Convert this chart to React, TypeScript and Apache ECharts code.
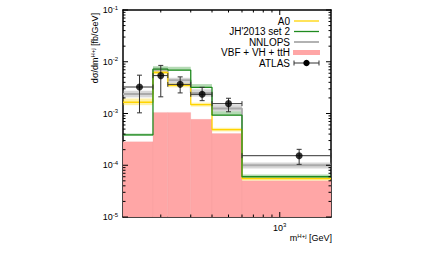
import React, { useEffect, useRef } from "react";
import * as echarts from "echarts";

// Bin edges (GeV)
const edges = [120, 180, 220, 300, 400, 600, 2000];

// VBF + VH + ttH (filled)
const vbf = [2.85e-4, 1.05e-3, 1.05e-3, 7.7e-4, 4.1e-4, 5.0e-5];

// A0 (yellow)
const a0 = [1.65e-3, 6.2e-3, 3.5e-3, 1.48e-3, 4.9e-4, 5.5e-5];
const a0Lo = [1.45e-3, 5.7e-3, 3.2e-3, 1.36e-3, 4.5e-4, 5.1e-5];
const a0Hi = [1.95e-3, 6.8e-3, 3.85e-3, 1.62e-3, 5.3e-4, 5.9e-5];

// JH'2013 set 2 (green)
const jh = [3.85e-4, 7.2e-3, 6.9e-3, 3.2e-3, 9.3e-4, 6.0e-5];
const jhLo = [3.7e-4, 6.9e-3, 6.7e-3, 3.1e-3, 9.0e-4, 5.8e-5];
const jhHi = [4.1e-4, 8.2e-3, 8.0e-3, 3.7e-3, 1.1e-3, 6.6e-5];

// NNLOPS (gray)
const nnlops = [2.38e-3, 7.0e-3, 4.4e-3, 2.5e-3, 1.25e-3, 1.0e-4];
const nnlopsLo = [2.05e-3, 6.3e-3, 3.9e-3, 2.12e-3, 1.1e-3, 0.87e-4];
const nnlopsHi = [2.75e-3, 7.7e-3, 4.9e-3, 2.93e-3, 1.45e-3, 1.13e-4];

// ATLAS data
const atlasX = [150, 200, 260, 350, 500, 1300];
const atlasY = [3.25e-3, 5.4e-3, 3.66e-3, 2.35e-3, 1.55e-3, 1.53e-4];
const atlasLo = [1.03e-3, 2.1e-3, 2.5e-3, 1.77e-3, 1.08e-3, 1.04e-4];
const atlasHi = [5.5e-3, 8.5e-3, 5.1e-3, 3.2e-3, 1.97e-3, 2.03e-4];

// Axis ranges and ticks
const xMin = 120;
const xMax = 2000;
const yMin = 1e-5;
const yMax = 1e-1;
const xMajorTicks = [1000];
const xMinorTicks = [200, 300, 400, 500, 600, 700, 800, 900];
const yMajorTicks = [1e-5, 1e-4, 1e-3, 1e-2, 1e-1];
const yMinorMultipliers = [2, 3, 4, 5, 6, 7, 8, 9];

const FONT = "Liberation Sans";
const YELLOW = "#ffd400";
const GREEN = "#1f8a1f";
const GRAY = "#aaaaaa";
const PINK = "#ffa6a6";

function stepPoints(vals: number[]) {
  const pts: number[][] = [];
  vals.forEach((v, i) => {
    pts.push([edges[i], v]);
    pts.push([edges[i + 1], v]);
  });
  return pts;
}

function binData(vals: number[]) {
  return vals.map((v, i) => [(edges[i] + edges[i + 1]) / 2, v]);
}

function bandSeries(lo: number[], hi: number[], color: string) {
  return {
    type: "custom",
    silent: true,
    z: 3,
    data: binData(hi),
    renderItem: (params: any, api: any) => {
      const i = params.dataIndex;
      const p0 = api.coord([edges[i], hi[i]]);
      const p1 = api.coord([edges[i + 1], lo[i]]);
      return {
        type: "rect",
        shape: { x: p0[0], y: p0[1], width: p1[0] - p0[0], height: p1[1] - p0[1] },
        style: { fill: color },
      };
    },
  };
}

function lineSeries(vals: number[], color: string, width: number, z: number) {
  return {
    type: "line",
    data: stepPoints(vals),
    symbol: "none",
    silent: true,
    z,
    lineStyle: { color, width },
  };
}

const sup = (e: number) => `{b|10}{s|${e}}`;

export default function App() {
  const ref = useRef<HTMLDivElement>(null);
  useEffect(() => {
    if (!ref.current) return;
    const chart = echarts.init(ref.current, undefined, { renderer: "svg" });
    const labelRich = {
      b: { fontSize: 9, fontFamily: FONT, color: "#000" },
      s: { fontSize: 6, fontFamily: FONT, color: "#000", verticalAlign: "top", padding: [0, 0, 5, 0] },
    };
    const frame = { show: true, lineStyle: { color: "#000", width: 1.5 } };
    const option: any = {
      animation: false,
      textStyle: { fontFamily: FONT },
      grid: { left: 123, right: 100, top: 10, bottom: 41 },
      xAxis: [
        {
          type: "log",
          logBase: 10,
          min: xMin,
          max: xMax,
          axisLine: frame,
          axisTick: { show: false },
          splitLine: { show: false },
          axisLabel: {
            margin: 5,
            formatter: (v: number) => {
              const e = Math.log10(v);
              return Math.abs(e - Math.round(e)) < 1e-6 ? sup(Math.round(e)) : "";
            },
            rich: labelRich,
          },
        },
        {
          type: "log",
          logBase: 10,
          position: "top",
          min: xMin,
          max: xMax,
          axisLine: frame,
          axisTick: { show: false },
          splitLine: { show: false },
          axisLabel: { show: false },
        },
      ],
      yAxis: [
        {
          type: "log",
          logBase: 10,
          min: yMin,
          max: yMax,
          axisLine: frame,
          axisTick: { show: false },
          splitLine: { show: false },
          axisLabel: {
            margin: 5,
            formatter: (v: number) => sup(Math.round(Math.log10(v))),
            rich: labelRich,
          },
        },
        {
          type: "log",
          logBase: 10,
          position: "right",
          min: yMin,
          max: yMax,
          axisLine: frame,
          axisTick: { show: false },
          splitLine: { show: false },
          axisLabel: { show: false },
        },
      ],
      series: [
        // VBF + VH + ttH filled bins
        {
          type: "custom",
          silent: true,
          z: 1,
          data: binData(vbf),
          renderItem: (params: any, api: any) => {
            const i = params.dataIndex;
            const p0 = api.coord([edges[i], vbf[i]]);
            const p1 = api.coord([edges[i + 1], yMin]);
            return {
              type: "rect",
              shape: { x: p0[0], y: p0[1], width: p1[0] - p0[0], height: p1[1] - p0[1] },
              style: { fill: PINK, stroke: "rgba(230,150,150,0.3)", lineWidth: 0.5 },
            };
          },
        },
        bandSeries(nnlopsLo, nnlopsHi, "rgba(150,150,150,0.38)"),
        bandSeries(jhLo, jhHi, "rgba(40,150,40,0.35)"),
        bandSeries(a0Lo, a0Hi, "rgba(255,215,0,0.35)"),
        lineSeries(nnlops, GRAY, 1.8, 4),
        lineSeries(a0, YELLOW, 1.3, 5),
        lineSeries(jh, GREEN, 1.3, 6),
        // ATLAS error bars
        {
          type: "custom",
          silent: true,
          z: 8,
          data: atlasX.map((x, i) => [x, atlasY[i]]),
          renderItem: (params: any, api: any) => {
            const i = params.dataIndex;
            const c = api.coord([atlasX[i], atlasY[i]]);
            const l = api.coord([edges[i], atlasY[i]]);
            const r = api.coord([edges[i + 1], atlasY[i]]);
            const lo = api.coord([atlasX[i], atlasLo[i]]);
            const hi = api.coord([atlasX[i], atlasHi[i]]);
            const st = { stroke: "#333", lineWidth: 1 };
            const cap = 2.5;
            return {
              type: "group",
              children: [
                { type: "line", shape: { x1: l[0], y1: c[1], x2: r[0], y2: c[1] }, style: st },
                { type: "line", shape: { x1: l[0], y1: c[1] - cap, x2: l[0], y2: c[1] + cap }, style: st },
                { type: "line", shape: { x1: r[0], y1: c[1] - cap, x2: r[0], y2: c[1] + cap }, style: st },
                { type: "line", shape: { x1: c[0], y1: lo[1], x2: c[0], y2: hi[1] }, style: st },
                { type: "line", shape: { x1: c[0] - cap, y1: lo[1], x2: c[0] + cap, y2: lo[1] }, style: st },
                { type: "line", shape: { x1: c[0] - cap, y1: hi[1], x2: c[0] + cap, y2: hi[1] }, style: st },
              ],
            };
          },
        },
        {
          type: "scatter",
          silent: true,
          z: 9,
          data: atlasX.map((x, i) => [x, atlasY[i]]),
          symbol: "circle",
          symbolSize: 7,
          itemStyle: { color: "#000" },
        },
        // Ticks (inside, on all four sides)
        {
          type: "custom",
          silent: true,
          z: 10,
          data: [[xMin, yMin]],
          renderItem: (params: any, api: any) => {
            const children: any[] = [];
            const st = { stroke: "#000", lineWidth: 1 };
            const addY = (v: number, len: number) => {
              const a = api.coord([xMin, v]);
              const b = api.coord([xMax, v]);
              children.push({ type: "line", shape: { x1: a[0], y1: a[1], x2: a[0] + len, y2: a[1] }, style: st });
              children.push({ type: "line", shape: { x1: b[0] - len, y1: b[1], x2: b[0], y2: b[1] }, style: st });
            };
            const addX = (u: number, len: number) => {
              const a = api.coord([u, yMin]);
              const b = api.coord([u, yMax]);
              children.push({ type: "line", shape: { x1: a[0], y1: a[1], x2: a[0], y2: a[1] - len }, style: st });
              children.push({ type: "line", shape: { x1: b[0], y1: b[1], x2: b[0], y2: b[1] + len }, style: st });
            };
            yMajorTicks.forEach((v) => addY(v, 5));
            yMajorTicks.slice(0, -1).forEach((v) => yMinorMultipliers.forEach((k) => addY(v * k, 2.5)));
            xMajorTicks.forEach((u) => addX(u, 5));
            xMinorTicks.forEach((u) => addX(u, 2.5));
            return { type: "group", children };
          },
        },
      ],
      graphic: [
        {
          type: "text",
          x: 95,
          y: 48,
          rotation: Math.PI / 2,
          style: {
            text: "{a|dσ/dm}{s|H+j}{a| [fb/GeV]}",
            align: "center",
            verticalAlign: "middle",
            rich: {
              a: { fontSize: 9, fontFamily: FONT, fill: "#000" },
              s: { fontSize: 6, fontFamily: FONT, fill: "#000", verticalAlign: "top", padding: [0, 0, 5, 0] },
            },
          },
        },
        {
          type: "text",
          x: 332,
          y: 238,
          style: {
            text: "{a|m}{s|H+j}{a| [GeV]}",
            align: "right",
            verticalAlign: "middle",
            rich: {
              a: { fontSize: 9, fontFamily: FONT, fill: "#000" },
              s: { fontSize: 6, fontFamily: FONT, fill: "#000", verticalAlign: "top", padding: [0, 0, 5, 0] },
            },
          },
        },
        // Legend
        ...["A0", "JH'2013 set 2", "NNLOPS", "VBF + VH + ttH", "ATLAS"].map((t, i) => ({
          type: "text",
          x: 290,
          y: 21 + i * 10.5,
          style: { text: t, align: "right", verticalAlign: "middle", fontSize: 10, fontFamily: FONT, fill: "#000" },
        })),
        { type: "line", shape: { x1: 294, y1: 21, x2: 319, y2: 21 }, style: { stroke: YELLOW, lineWidth: 1.3 } },
        { type: "line", shape: { x1: 294, y1: 31.5, x2: 319, y2: 31.5 }, style: { stroke: GREEN, lineWidth: 1.3 } },
        { type: "line", shape: { x1: 294, y1: 42, x2: 319, y2: 42 }, style: { stroke: GRAY, lineWidth: 1.8 } },
        { type: "rect", shape: { x: 293, y: 50, width: 27, height: 5 }, style: { fill: PINK } },
        { type: "line", shape: { x1: 294, y1: 63, x2: 319, y2: 63 }, style: { stroke: "#333", lineWidth: 1 } },
        { type: "line", shape: { x1: 294, y1: 60.5, x2: 294, y2: 65.5 }, style: { stroke: "#333", lineWidth: 1 } },
        { type: "line", shape: { x1: 319, y1: 60.5, x2: 319, y2: 65.5 }, style: { stroke: "#333", lineWidth: 1 } },
        { type: "circle", shape: { cx: 306.5, cy: 63, r: 3.2 }, style: { fill: "#000" } },
      ],
    };
    chart.setOption(option);
    return () => chart.dispose();
  }, []);
  return (
    <div
      ref={ref}
      style={{ position: "fixed", left: 0, top: 0, width: 431, height: 258, background: "#fff" }}
    />
  );
}
